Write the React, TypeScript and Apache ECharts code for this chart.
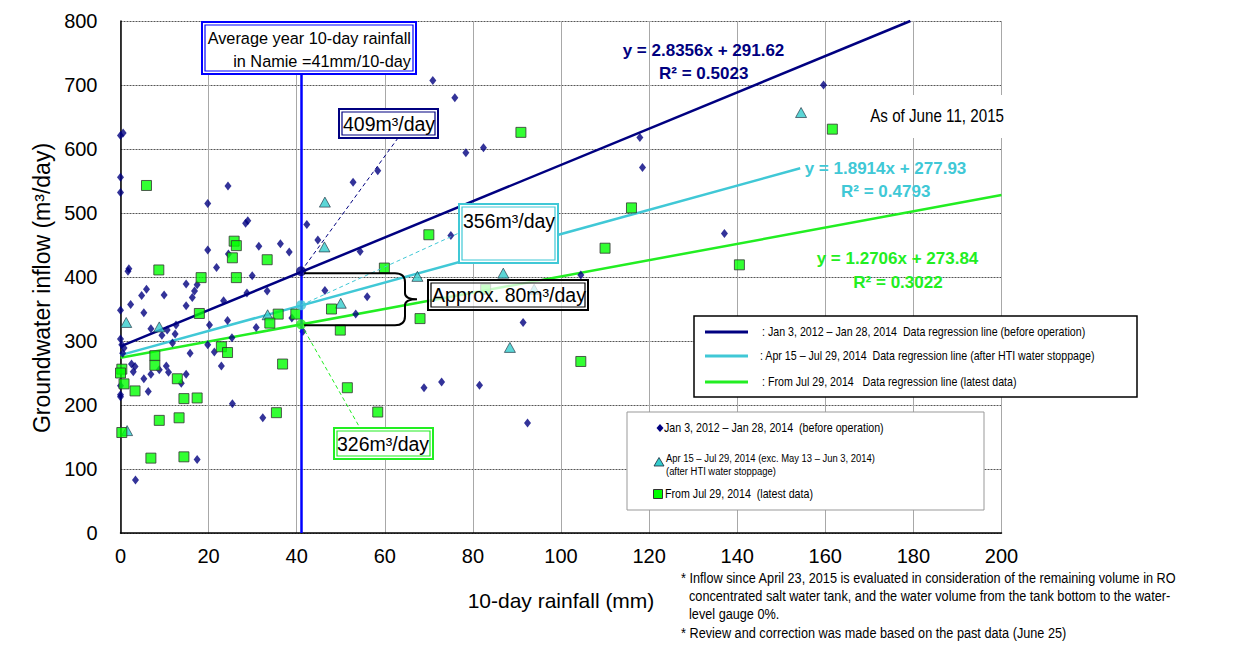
import React, { useEffect, useRef } from "react";
import * as echarts from "echarts";

// ---------- data ----------
const avgRainfall = 41;

// Jan 3, 2012 – Jan 28, 2014 (before operation)
const beforeOperation: number[][] = [
  [0, 621], [0.6, 625], [0, 556], [0, 532], [19.8, 515], [24.4, 542], [28.4, 484], [28.9, 488],
  [42.3, 482], [44.8, 458], [19.8, 442], [31.4, 448], [36.3, 452], [38.3, 439], [24.5, 436],
  [1.9, 413], [1.7, 409], [21.8, 415], [29.9, 402], [14.9, 389], [17.4, 388], [5.9, 381],
  [4.8, 371], [9.9, 372], [16.8, 378], [16.3, 368], [28.7, 375], [33.3, 378], [23.4, 363],
  [2.3, 357], [14.9, 355], [0, 348], [5.3, 344], [6.9, 319], [12.6, 325], [10.6, 317],
  [9.4, 309], [12.4, 311], [20.2, 325], [24.3, 332], [30.8, 321], [25.3, 305], [11.8, 297],
  [19.8, 294], [0, 303], [0.3, 294], [0.8, 289], [0.5, 281], [38.9, 336], [41.4, 315],
  [15.8, 281], [21.3, 283], [22.9, 261], [10.4, 261], [8.8, 255], [2.5, 264], [3.3, 260],
  [2.9, 252], [6.9, 248], [10.9, 251], [14.9, 248], [13.8, 234], [5.3, 241], [0, 230],
  [6.3, 221], [0, 216], [0, 213], [25.4, 202], [32.3, 180], [17.4, 115], [3.4, 83],
  [70.9, 707], [75.9, 680], [78.4, 594], [82.4, 602], [58.4, 566], [52.8, 548], [54.4, 440],
  [75, 465], [46.4, 379], [56, 369], [53.4, 342], [91.4, 329], [68.9, 227], [72.9, 236],
  [81.5, 231], [92.4, 172], [159.6, 700], [117.9, 618], [118.5, 571], [137.1, 468], [104.5, 403],
];

// Apr 15 – Jul 29, 2014 (after HTI water stoppage)
const afterStoppage: number[][] = [
  [1.3, 329], [8.8, 322], [1.5, 160], [33.4, 341], [46.4, 517], [46.3, 447], [50, 359],
  [67.4, 401], [86.9, 406], [93.9, 381], [88.4, 290], [154.5, 657],
];

// From Jul 29, 2014 (latest data)
const latestData: number[][] = [
  [5.9, 543], [25.8, 456], [26.3, 449], [25.4, 430], [33.3, 427], [8.7, 411], [18.3, 399],
  [26.3, 399], [17.9, 343], [35.8, 342], [33.9, 328], [39.8, 342], [22.9, 291], [24.3, 282],
  [7.8, 277], [7.8, 262], [0.3, 256], [0, 250], [12.9, 241], [0.8, 233], [3.3, 222],
  [36.8, 264], [14.4, 210], [17.4, 211], [35.4, 188], [8.8, 176], [13.3, 180], [0.3, 157],
  [6.9, 117], [14.4, 119], [90.9, 626], [70, 466], [59.9, 414], [47.9, 350], [68, 335],
  [49.9, 317], [82.9, 381], [51.5, 227], [58.4, 189], [161.6, 631], [116, 508], [110, 445],
  [140.5, 419], [104.5, 268],
];

// regression lines (end points)
const lineBefore: number[][] = [[0, 291.6], [179.3, 800]];
const lineAfter: number[][] = [[0, 277.9], [154.3, 569.8]];
const lineLatest: number[][] = [[0, 273.8], [200, 528]];

// values on the regression lines at the average rainfall
const atAverage = { before: 409, after: 356, latest: 326 };

const NAVY = "#000080";
const CYAN = "#40C8D6";
const TRI = "#33CCCC";
const GREEN = "#22EE22";
const SQ = "#00FF00";
const BLUE = "#0000FF";
const REG = '"Liberation Sans", Arial, sans-serif';
const NX = 0.82; // horizontal squeeze to imitate a narrow face

function dbl(x: number, y: number, w: number, h: number, color: string, fill = "#fff") {
  return [
    { type: "rect", z: 20, shape: { x, y, width: w, height: h }, style: { fill, stroke: color, lineWidth: 2 } },
    { type: "rect", z: 21, shape: { x: x + 3, y: y + 3, width: w - 6, height: h - 6 }, style: { fill: "none", stroke: color, lineWidth: 1.2 } },
  ];
}

function txt(x: number, y: number, text: string, size: number, opts: any = {}) {
  return {
    type: "text",
    z: 30,
    x,
    y,
    scaleX: opts.sx || 1,
    style: {
      text,
      fontSize: size,
      fontFamily: REG,
      fill: opts.fill || "#000",
      fontWeight: opts.weight || "normal",
      align: opts.align || "left",
      verticalAlign: "middle",
      lineHeight: opts.lh,
    },
  };
}

export default function App() {
  const ref = useRef<HTMLDivElement>(null);
  useEffect(() => {
    if (!ref.current) return;
    const chart = echarts.init(ref.current, undefined, { renderer: "svg" });
    const option: any = {
      animation: false,
      backgroundColor: "#fff",
      grid: { left: 120.5, top: 21, width: 881, height: 512, containLabel: false },
      xAxis: {
        type: "value",
        min: 0,
        max: 200,
        interval: 20,
        name: "10-day rainfall (mm)",
        nameLocation: "middle",
        nameGap: 57,
        nameTextStyle: { fontSize: 21, fontFamily: REG, color: "#000" },
        axisLine: { show: true, onZero: false, lineStyle: { color: "#000", width: 1.5 } },
        axisTick: { show: false },
        axisLabel: { fontSize: 20, fontFamily: REG, color: "#000", margin: 13 },
        splitLine: { show: true, lineStyle: { color: "#A8A8A8", width: 1 } },
      },
      yAxis: {
        type: "value",
        min: 0,
        max: 800,
        interval: 100,
        name: "Groundwater inflow (m³/day)",
        nameLocation: "middle",
        nameGap: 64,
        nameRotate: 90,
        nameTextStyle: { fontSize: 23, fontFamily: REG, color: "#000", padding: [0, 22, 0, 0] },
        axisLine: { show: true, onZero: false, lineStyle: { color: "#000", width: 1.5 } },
        axisTick: { show: false },
        axisLabel: { fontSize: 20, fontFamily: REG, color: "#000", margin: 23 },
        splitLine: { show: true, lineStyle: { color: "#555", width: 1, type: [2, 1] } },
      },
      series: [
        {
          name: "Before operation regression",
          type: "line",
          data: lineBefore,
          symbol: "none",
          silent: true,
          z: 2,
          lineStyle: { color: NAVY, width: 2.5 },
          markLine: {
            silent: true,
            symbol: ["none", "none"],
            label: { show: false },
            lineStyle: { color: BLUE, width: 2.5, type: "solid" },
            data: [{ xAxis: avgRainfall }],
          },
        },
        { name: "After HTI regression", type: "line", data: lineAfter, symbol: "none", silent: true, z: 2, lineStyle: { color: CYAN, width: 2.5 } },
        { name: "Latest regression", type: "line", data: lineLatest, symbol: "none", silent: true, z: 2, lineStyle: { color: GREEN, width: 2.5 } },
        { name: "Jan 3, 2012 – Jan 28, 2014", type: "scatter", data: beforeOperation, symbol: "diamond", symbolSize: [7, 9], z: 3, itemStyle: { color: NAVY } },
        { name: "Apr 15 – Jul 29, 2014", type: "scatter", data: afterStoppage, symbol: "triangle", symbolSize: [11, 10], z: 3, itemStyle: { color: TRI, borderColor: "#1a2a3a", borderWidth: 0.8 } },
        { name: "From Jul 29, 2014", type: "scatter", data: latestData, symbol: "rect", symbolSize: 10, z: 3, itemStyle: { color: SQ, borderColor: "#333", borderWidth: 1 } },
        {
          name: "At average rainfall",
          type: "scatter",
          symbol: "circle",
          symbolSize: 10,
          z: 5,
          data: [
            { value: [avgRainfall, atAverage.before], itemStyle: { color: NAVY } },
            { value: [avgRainfall, atAverage.after], itemStyle: { color: CYAN } },
            { value: [avgRainfall, atAverage.latest], itemStyle: { color: GREEN } },
          ],
        },
      ],
    };
    chart.setOption(option);

    const pB = chart.convertToPixel({ xAxisIndex: 0, yAxisIndex: 0 }, [avgRainfall, atAverage.before]) as number[];
    const pA = chart.convertToPixel({ xAxisIndex: 0, yAxisIndex: 0 }, [avgRainfall, atAverage.after]) as number[];
    const pL = chart.convertToPixel({ xAxisIndex: 0, yAxisIndex: 0 }, [avgRainfall, atAverage.latest]) as number[];

    const yt = pB[1] + 2;
    const yb = pL[1] + 1;
    const ym = (yt + yb) / 2;
    const bx = 405;
    const d = `M ${pB[0] + 3} ${yt} L ${bx - 10} ${yt} Q ${bx} ${yt} ${bx} ${yt + 9} L ${bx} ${ym - 6} Q ${bx} ${ym} ${bx + 12} ${ym} Q ${bx} ${ym} ${bx} ${ym + 6} L ${bx} ${yb - 9} Q ${bx} ${yb} ${bx - 10} ${yb} L ${pL[0] + 3} ${yb}`;
    echarts.graphic.registerShape("brace", (echarts.graphic as any).extendPath(d, {}));

    const graphics: any[] = [
      // connectors
      { type: "line", z: 15, shape: { x1: pB[0], y1: pB[1], x2: 398, y2: 138 }, style: { stroke: NAVY, lineWidth: 1, lineDash: [4, 3] } },
      { type: "line", z: 15, shape: { x1: pA[0], y1: pA[1], x2: 459, y2: 233 }, style: { stroke: CYAN, lineWidth: 1, lineDash: [4, 3] } },
      { type: "line", z: 15, shape: { x1: pL[0], y1: pL[1], x2: 360, y2: 428 }, style: { stroke: GREEN, lineWidth: 1, lineDash: [4, 3] } },
      { type: "brace", z: 15, x: 0, y: 0, style: { fill: "none", stroke: "#000", lineWidth: 2 } },
      // boxes
      ...dbl(202, 22, 214, 52, BLUE),
      txt(411, 49.5, "Average year 10-day rainfall\nin Namie =41mm/10-day", 16.3, { align: "right", lh: 23.5 }),
      ...dbl(339, 109, 99, 29, NAVY),
      txt(389, 124, "409m³/day", 19.5, { align: "center" }),
      ...dbl(459, 204, 99, 59, CYAN),
      txt(509, 221, "356m³/day", 19.5, { align: "center" }),
      ...dbl(428, 280, 160, 30, "#000", "rgba(255,255,255,0.75)"),
      txt(509, 295, "Approx. 80m³/day", 19.5, { align: "center" }),
      ...dbl(334, 428, 99, 31, GREEN),
      txt(383, 444, "326m³/day", 19.5, { align: "center" }),
      // equations
      txt(703.5, 50, "y = 2.8356x + 291.62", 17, { align: "center", fill: NAVY, weight: "bold" }),
      txt(703.7, 73.3, "R² = 0.5023", 17, { align: "center", fill: NAVY, weight: "bold" }),
      txt(885.5, 168.3, "y = 1.8914x + 277.93", 17, { align: "center", fill: CYAN, weight: "bold" }),
      txt(885.7, 191.7, "R² = 0.4793", 17, { align: "center", fill: CYAN, weight: "bold" }),
      txt(897.5, 258.3, "y = 1.2706x + 273.84", 17, { align: "center", fill: GREEN, weight: "bold" }),
      txt(898, 282.3, "R² = 0.3022", 17, { align: "center", fill: GREEN, weight: "bold" }),
      // as of
      { type: "rect", z: 18, shape: { x: 863, y: 95, width: 147, height: 43 }, style: { fill: "#fff" } },
      txt(1004, 116, "As of June 11, 2015", 18.5, { align: "right", sx: NX }),
      // legend 1
      { type: "rect", z: 20, shape: { x: 694, y: 316, width: 443, height: 81 }, style: { fill: "#fff", stroke: "#000", lineWidth: 1.5 } },
      { type: "line", z: 22, shape: { x1: 705, y1: 332, x2: 748, y2: 332 }, style: { stroke: NAVY, lineWidth: 3 } },
      { type: "line", z: 22, shape: { x1: 705, y1: 356, x2: 748, y2: 356 }, style: { stroke: CYAN, lineWidth: 3 } },
      { type: "line", z: 22, shape: { x1: 705, y1: 382, x2: 748, y2: 382 }, style: { stroke: GREEN, lineWidth: 3 } },
      txt(762, 332, ": Jan 3, 2012 – Jan 28, 2014  Data regression line (before operation)", 13, { sx: NX }),
      txt(760, 356, ": Apr 15 – Jul 29, 2014  Data regression line (after HTI water stoppage)", 13, { sx: NX }),
      txt(762, 382, ": From Jul 29, 2014   Data regression line (latest data)", 13, { sx: NX }),
      // legend 2
      { type: "rect", z: 20, shape: { x: 627, y: 412, width: 357, height: 98 }, style: { fill: "#fff", stroke: "#999", lineWidth: 1 } },
      { type: "polygon", z: 22, shape: { points: [[660, 424], [663.5, 428], [660, 432], [656.5, 428]] }, style: { fill: NAVY } },
      txt(664, 428, "Jan 3, 2012 – Jan 28, 2014  (before operation)", 13, { sx: NX }),
      { type: "polygon", z: 22, shape: { points: [[659, 457.5], [664, 466], [654, 466]] }, style: { fill: TRI, stroke: "#1a2a3a", lineWidth: 0.8 } },
      txt(666, 457.5, "Apr 15 – Jul 29, 2014 (exc. May 13 – Jun 3, 2014)", 11.5, { sx: NX }),
      txt(666, 470.5, "(after HTI water stoppage)", 11.5, { sx: NX }),
      { type: "rect", z: 22, shape: { x: 653.5, y: 489.5, width: 9, height: 9 }, style: { fill: SQ, stroke: "#333", lineWidth: 1 } },
      txt(665, 494, "From Jul 29, 2014  (latest data)", 13, { sx: NX }),
      // footnotes
      txt(681, 578, "* Inflow since April 23, 2015 is evaluated in consideration of the remaining volume in RO", 15.5, { sx: NX }),
      txt(689, 596, "concentrated salt water tank, and the water volume from the tank bottom to the water-", 15.5, { sx: NX }),
      txt(689, 614, "level gauge 0%.", 15.5, { sx: NX }),
      txt(681, 633, "* Review and correction was made based on the past data (June 25)", 15.5, { sx: NX }),
    ];
    chart.setOption({ graphic: graphics });

    return () => chart.dispose();
  }, []);
  return <div ref={ref} style={{ position: "absolute", left: 0, top: 0, width: 1236, height: 646 }} />;
}
